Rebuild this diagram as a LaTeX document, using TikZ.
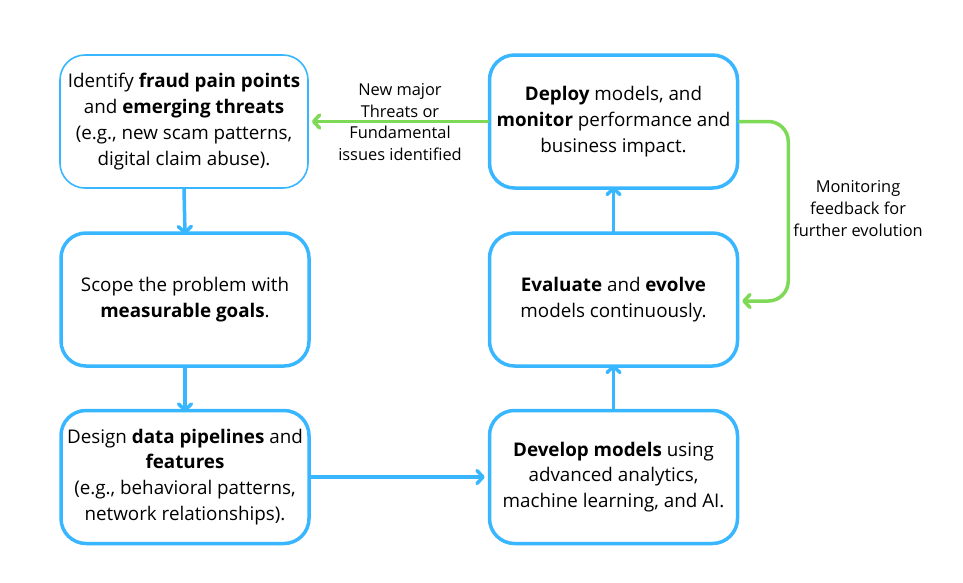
\documentclass[tikz,border=0pt]{standalone}
\usepackage{fontspec}
\setmainfont{Open Sans}
\usetikzlibrary{arrows.meta}
\definecolor{cblue}{HTML}{38B6FF}
\definecolor{cgreen}{HTML}{7ED957}
\tikzset{
  box/.style={draw=cblue, line width=3.5pt, rounded corners=25pt, minimum width=248pt, minimum height=133pt, align=center, fill=white, font=\fontsize{18.8}{25.8}\selectfont, inner sep=0pt},
  thinbox/.style={box, line width=1.6pt},
  barrow/.style={draw=cblue, line width=3.5pt, line cap=round, -{Straight Barb[length=6pt,width=13pt,line cap=round,line join=round]}},
  garrow/.style={draw=cgreen, line width=3.5pt, line cap=round, -{Straight Barb[length=6pt,width=13pt,line cap=round,line join=round]}},
  lbl/.style={align=center, font=\fontsize{16.4}{21.8}\selectfont, inner sep=0pt}
}
\begin{document}
\begin{tikzpicture}[x=1pt,y=-1pt]
\useasboundingbox (0,0) rectangle (963,582);
\node[thinbox] (identify) at (184,121.5) {Identify \textbf{fraud pain points}\\and \textbf{emerging threats}\\ (e.g., new scam patterns,\\digital claim abuse).};
\node[box] (scope) at (185,299.5) {Scope the problem with\\\textbf{measurable goals}.};
\node[box] (design) at (185,477) {Design \textbf{data pipelines} and\\\textbf{features}\\ (e.g., behavioral patterns,\\network relationships).};
\node[box] (develop) at (613.5,477) {\textbf{Develop models} using\\advanced analytics,\\machine learning, and AI.};
\node[box] (evaluate) at (613.5,299.5) {\textbf{Evaluate} and \textbf{evolve}\\models continuously.};
\node[box] (deploy) at (613.5,121.5) {\textbf{Deploy} models, and\\\textbf{monitor} performance and\\business impact.};
\draw[barrow] (identify.south) -- ([yshift=-3pt]scope.north);
\draw[barrow] (scope.south) -- ([yshift=-3pt]design.north);
\draw[barrow] (design.east) -- ([xshift=-3pt]develop.west);
\draw[barrow] (develop.north) -- ([yshift=3pt]evaluate.south);
\draw[barrow] (evaluate.north) -- ([yshift=3pt]deploy.south);
\draw[garrow] (deploy.west) -- ([xshift=3pt]identify.east);
\draw[garrow, rounded corners=20pt] (deploy.east) -- ++(49,0) |- ([xshift=3pt,yshift=-1.5pt]evaluate.east);
\node[lbl] (newmajor) at (400,122) {New major\\Threats or\\Fundamental\\issues identified};
\node[lbl] (monitoring) at (858,208.5) {Monitoring\\feedback for\\further evolution};
\end{tikzpicture}
\end{document}
